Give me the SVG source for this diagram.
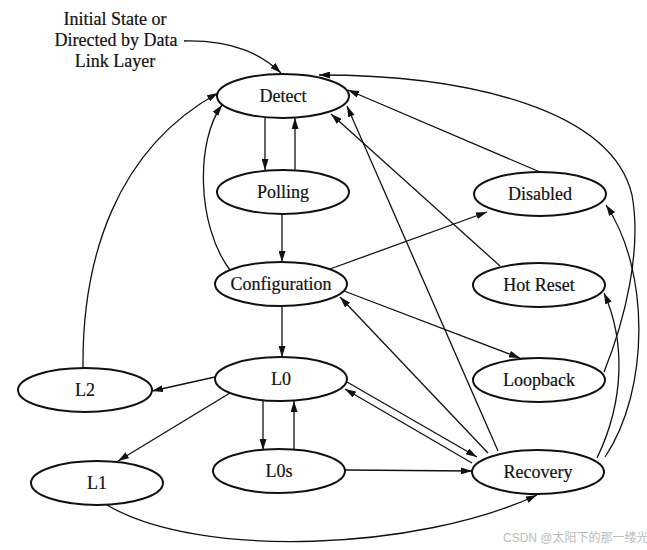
<svg xmlns="http://www.w3.org/2000/svg" width="647" height="550" viewBox="0 0 647 550">
<style>
.node ellipse{fill:#fff;stroke:#111;stroke-width:2}
.node text,.lbl{font-family:"Liberation Serif","Times New Roman",serif;font-size:18px;fill:#111;stroke:#111;stroke-width:0.2;text-anchor:middle}
#edges path{fill:none;stroke:#111;stroke-width:1.3;marker-end:url(#ah)}
.wm{font-family:"Liberation Sans","Noto Sans CJK SC",sans-serif;font-size:12px;fill:#bbb}
</style>
<defs>
<marker id="ah" viewBox="0 0 11 7" refX="11" refY="3.5" markerWidth="11" markerHeight="7" markerUnits="userSpaceOnUse" orient="auto">
<path d="M0,0 L11,3.5 L0,7 z" fill="#111"/>
</marker>
</defs>
<rect width="647" height="550" fill="#fff"/>
<g id="label">
<text class="lbl" x="115" y="25">Initial State or</text>
<text class="lbl" x="116" y="46">Directed by Data</text>
<text class="lbl" x="115" y="67">Link Layer</text>
</g>
<g id="edges">
<path d="M184,41 C235,40 262,55 281,73"/>
<path d="M265,117 L265,170"/>
<path d="M295,171 L295,118"/>
<path d="M282,214 L282,262"/>
<path d="M230,270 C196,225 196,140 222,105"/>
<path d="M83,368 C82,260 115,150 218,93"/>
<path d="M282,306 L282,357"/>
<path d="M215,377 L152,391"/>
<path d="M230,393 L118,461"/>
<path d="M263,400 L263,450"/>
<path d="M294,450 L294,401"/>
<path d="M345,470 L472,471"/>
<path d="M107,505 C200,560 420,550 537,495"/>
<path d="M347,382 L477,457"/>
<path d="M472,463 L345,389"/>
<path d="M488,453 L340,297"/>
<path d="M498,451 L347,106"/>
<path d="M500,266 L331,114"/>
<path d="M540,172 L348,90"/>
<path d="M604,372 C625,320 642,250 632,195 C612,110 470,75 319,75"/>
<path d="M605,457 C650,390 650,270 606,205"/>
<path d="M597,458 C625,400 625,340 604,293"/>
<path d="M330,269 L487,212"/>
<path d="M344,291 L520,358"/>
</g>
<g id="detect" class="node"><ellipse cx="283" cy="96" rx="66" ry="22"/><text x="283" y="102">Detect</text></g>
<g id="polling" class="node"><ellipse cx="283" cy="192" rx="66" ry="22"/><text x="283" y="198">Polling</text></g>
<g id="configuration" class="node"><ellipse cx="281" cy="284" rx="66" ry="22"/><text x="281" y="290">Configuration</text></g>
<g id="l0" class="node"><ellipse cx="281" cy="379" rx="66" ry="22"/><text x="281" y="385">L0</text></g>
<g id="l0s" class="node"><ellipse cx="279" cy="471" rx="66" ry="22"/><text x="279" y="477">L0s</text></g>
<g id="l2" class="node"><ellipse cx="85" cy="390" rx="67" ry="22"/><text x="85" y="396">L2</text></g>
<g id="l1" class="node"><ellipse cx="97" cy="483" rx="66" ry="22"/><text x="97" y="489">L1</text></g>
<g id="disabled" class="node"><ellipse cx="540" cy="194" rx="66" ry="22"/><text x="540" y="200">Disabled</text></g>
<g id="hotreset" class="node"><ellipse cx="539" cy="285" rx="66" ry="22"/><text x="539" y="291">Hot Reset</text></g>
<g id="loopback" class="node"><ellipse cx="539" cy="380" rx="66" ry="22"/><text x="539" y="386">Loopback</text></g>
<g id="recovery" class="node"><ellipse cx="538" cy="472" rx="66" ry="22"/><text x="538" y="478">Recovery</text></g>
<text class="wm" x="503" y="542">CSDN @太阳下的那一缕光</text>
</svg>
